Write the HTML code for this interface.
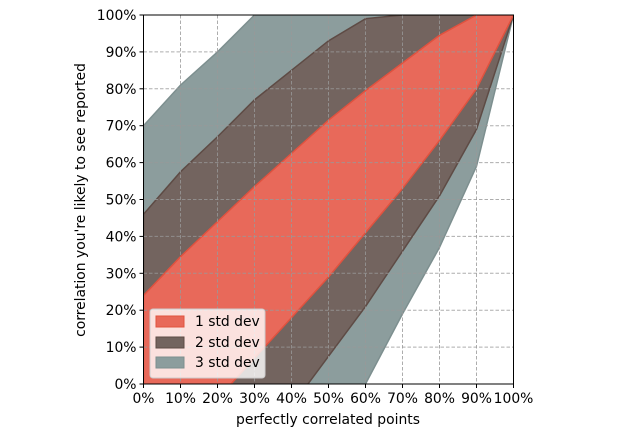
<!DOCTYPE html>
<html><head><meta charset="utf-8"><style>
html,body{margin:0;padding:0;background:#fff;}
svg text{font-family:"DejaVu Sans","Liberation Sans",sans-serif;font-size:13.9px;fill:#000;}
</style></head><body>
<svg id="chart" width="640" height="437" viewBox="0 0 640 437" xmlns="http://www.w3.org/2000/svg">
<defs><clipPath id="plotclip"><rect x="143.5" y="15" width="370" height="369"/></clipPath></defs>
<g id="bands" clip-path="url(#plotclip)"></g>
<g id="grid"></g>
<rect x="143.5" y="15" width="370" height="369" fill="none" stroke="#000" stroke-width="1"/>
<g id="ticks"></g>
<text x="328" y="424" text-anchor="middle">perfectly correlated points</text>
<text transform="translate(85,200) rotate(-90)" text-anchor="middle">correlation you're likely to see reported</text>
<g>
<rect x="150" y="309" width="115" height="69" rx="3" fill="#fff" fill-opacity="0.8" stroke="#ccc"/>
<rect x="156" y="316" width="28" height="11" fill="#e8695a" stroke="#e0523f"/>
<text x="195" y="326">1 std dev</text>
<rect x="156" y="337" width="28" height="11" fill="#73645f" stroke="#5e4b45"/>
<text x="195" y="347">2 std dev</text>
<rect x="156" y="357" width="28" height="11" fill="#8c9d9d" stroke="#7d8f8f"/>
<text x="195" y="367">3 std dev</text>
</g>
</svg>
<script>
const xs = [0,10,20,30,40,50,60,70,80,90,100];
const upper3 = [70,81,90,100,105,110,110,110,110,110,100];
const lower3 = [-20,-20,-20,-20,-20,-10,0,19,37,59,100];
const upper2 = [46,57.5,67,77,85,93,99,100,100,100,100];
const lower2 = [-15,-15,-15,-15,-6,7.5,21,36,51,69,100];
const upper1 = [24,34.5,44,53.5,62.5,71.5,79.5,87,94.5,100,100];
const lower1 = [-10,-10,-4,7,18,29,41,53,66,80,100];
const tickVals = [0,10,20,30,40,50,60,70,80,90,100];
const tickLabels = ["0%","10%","20%","30%","40%","50%","60%","70%","80%","90%","100%"];
const NS="http://www.w3.org/2000/svg";
const X0=143.5,X1=513.5,Y0=384,Y1=15;
function sx(v){return X0+(X1-X0)*v/100;}
function sy(v){return Y0-(Y0-Y1)*v/100;}
function band(up,lo,fill,stroke,name){
  let d="M";
  xs.forEach((x,i)=>{d+=sx(x)+","+sy(up[i])+" L";});
  for(let i=xs.length-1;i>=0;i--){d+=sx(xs[i])+","+sy(lo[i])+(i>0?" L":" Z");}
  const p=document.createElementNS(NS,"path");
  p.setAttribute("d",d);p.setAttribute("fill",fill);p.setAttribute("stroke",stroke);p.setAttribute("stroke-width","1.5");
  
  
  document.getElementById("bands").appendChild(p);
}
band(upper3,lower3,"#8c9d9d","#7d8f8f","band-3-std-dev");
band(upper2,lower2,"#73645f","#5e4b45","band-2-std-dev");
band(upper1,lower1,"#e8695a","#e0523f","band-1-std-dev");
const g=document.getElementById("grid"),t=document.getElementById("ticks");
tickVals.forEach((v,i)=>{
  const vl=document.createElementNS(NS,"line");
  vl.setAttribute("x1",sx(v));vl.setAttribute("x2",sx(v));vl.setAttribute("y1",Y1);vl.setAttribute("y2",Y0);
  vl.setAttribute("stroke","#999");vl.setAttribute("stroke-opacity","0.8");vl.setAttribute("stroke-dasharray","3.5,2");
  
  
  g.appendChild(vl);
  const hl=document.createElementNS(NS,"line");
  hl.setAttribute("x1",X0);hl.setAttribute("x2",X1);hl.setAttribute("y1",sy(v));hl.setAttribute("y2",sy(v));
  hl.setAttribute("stroke","#999");hl.setAttribute("stroke-opacity","0.8");hl.setAttribute("stroke-dasharray","3.5,2");
  
  
  g.appendChild(hl);
  const xt=document.createElementNS(NS,"line");
  xt.setAttribute("x1",sx(v));xt.setAttribute("x2",sx(v));xt.setAttribute("y1",Y0);xt.setAttribute("y2",Y0+4);xt.setAttribute("stroke","#000");
  
  
  t.appendChild(xt);
  const yt=document.createElementNS(NS,"line");
  yt.setAttribute("x1",X0-4);yt.setAttribute("x2",X0);yt.setAttribute("y1",sy(v));yt.setAttribute("y2",sy(v));yt.setAttribute("stroke","#000");
  
  
  t.appendChild(yt);
  const xl=document.createElementNS(NS,"text");
  xl.setAttribute("x",sx(v));xl.setAttribute("y",Y0+19);xl.setAttribute("text-anchor","middle");xl.textContent=tickLabels[i];
  
  
  t.appendChild(xl);
  const yl=document.createElementNS(NS,"text");
  yl.setAttribute("x",X0-7);yl.setAttribute("y",sy(v)+5);yl.setAttribute("text-anchor","end");yl.textContent=tickLabels[i];
  
  
  t.appendChild(yl);
});
</script>
</body></html>
